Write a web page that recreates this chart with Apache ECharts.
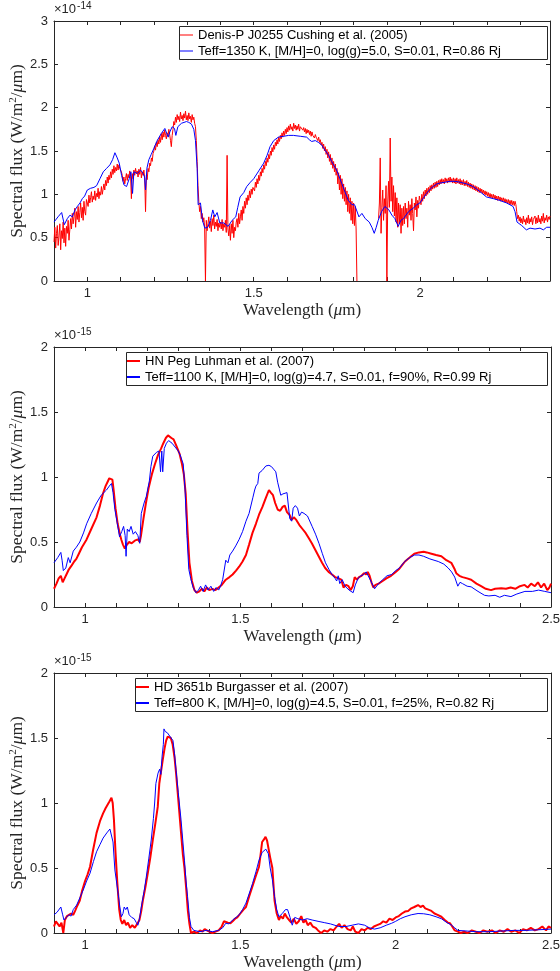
<!DOCTYPE html>
<html>
<head>
<meta charset="utf-8">
<script src="https://cdn.jsdelivr.net/npm/echarts@6/dist/echarts.min.js"></script>
<style>
html,body{margin:0;padding:0;background:#fff}
#chart{width:560px;height:971px}
</style>
</head>
<body>
<div id="chart"></div>
<script>
// ---- Panel 1: Denis-P J0255, flux in units of 1e-14 W/m^2/um ----
const obs1Start = 0.9;     // first wavelength of the observed spectrum (um)
const obs1Step = 0.0025;   // sampling step (um)
const obsFlux1 = [
  // 0.900
  0.45,0.62,0.38,0.55,0.64,0.41,0.52,0.66,0.36,0.58,0.49,0.68,0.44,0.61,0.40,0.63,0.55,0.70,0.47,0.59,
  // 0.950
  0.72,0.60,0.78,0.66,0.74,0.84,0.62,0.80,0.71,0.86,0.68,0.79,0.90,0.73,0.85,0.70,0.92,0.80,0.76,0.94,
  // 1.000
  0.95,0.86,0.99,0.90,0.96,1.03,0.91,0.98,0.94,1.04,0.93,1.01,0.97,1.07,0.95,1.03,0.99,1.09,1.00,1.06,
  // 1.050
  1.12,1.05,1.16,1.10,1.20,1.13,1.22,1.17,1.26,1.19,1.29,1.23,1.33,1.25,1.31,1.27,1.35,1.28,1.34,1.30,
  // 1.100
  1.32,1.26,1.22,1.15,1.20,1.12,1.18,1.24,1.16,1.23,1.19,1.27,1.21,0.95,1.24,1.18,1.28,1.22,1.30,1.24,
  // 1.150
  1.27,1.20,1.29,1.23,1.31,1.19,1.26,1.22,1.28,1.18,0.80,1.22,1.17,1.30,1.26,1.36,1.33,1.42,1.38,1.47,
  // 1.200
  1.50,1.56,1.51,1.60,1.55,1.63,1.58,1.66,1.60,1.70,1.63,1.72,1.66,1.74,1.68,1.64,1.71,1.67,1.75,1.69,
  // 1.250
  1.62,1.55,1.68,1.75,1.84,1.80,1.89,1.83,1.92,1.86,1.90,1.84,1.95,1.87,1.91,1.85,1.93,1.88,1.96,1.86,
  // 1.300
  1.91,1.85,1.94,1.87,1.90,1.83,1.92,1.86,1.89,1.82,1.78,1.62,1.38,1.10,0.92,0.80,0.86,0.72,0.78,0.68,
  // 1.350
  0.73,0.62,0.00,0.70,0.58,0.66,0.74,0.61,0.69,0.57,0.72,0.64,0.76,0.60,0.68,0.63,0.71,0.58,0.67,0.62,
  // 1.400
  0.68,0.60,0.71,0.58,0.66,0.62,0.70,0.56,1.45,0.60,0.52,0.64,0.47,0.66,0.55,0.70,0.50,0.62,0.58,0.68,
  // 1.450
  0.72,0.62,0.78,0.66,0.74,0.82,0.70,0.86,0.78,0.92,0.84,0.96,0.88,0.99,0.93,1.04,0.96,1.06,1.00,1.08,
  // 1.500
  1.10,1.04,1.14,1.08,1.18,1.12,1.22,1.16,1.26,1.21,1.30,1.25,1.34,1.29,1.38,1.33,1.42,1.37,1.46,1.41,
  // 1.550
  1.50,1.45,1.54,1.49,1.57,1.52,1.60,1.56,1.63,1.58,1.66,1.61,1.68,1.64,1.71,1.66,1.73,1.68,1.75,1.70,
  // 1.600
  1.77,1.72,1.79,1.74,1.81,1.75,1.78,1.73,1.82,1.76,1.80,1.74,1.79,1.75,1.81,1.73,1.78,1.76,1.80,1.74,
  // 1.650
  1.77,1.72,1.76,1.70,1.75,1.71,1.74,1.69,1.73,1.67,1.72,1.68,1.70,1.65,1.69,1.66,1.68,1.62,1.66,1.60,
  // 1.700
  1.63,1.57,1.60,1.53,1.58,1.50,1.55,1.46,1.52,1.42,1.49,1.38,1.46,1.34,1.42,1.30,1.38,1.26,1.35,1.22,
  // 1.750
  1.30,1.12,1.25,1.05,1.22,1.00,1.18,0.95,1.12,0.92,1.08,0.88,1.04,0.80,1.00,0.78,0.96,0.70,0.92,0.66,
  // 1.800 (no data in the telluric gap)
  0.90,0.64,0.86,0.60,0.00,null,null,null,null,null,null,null,null,null,null,null,null,null,null,null,
  // 1.850
  null,null,null,null,null,null,null,null,null,null,0.72,0.90,1.42,0.55,0.85,1.05,0.70,0.95,0.78,1.10,
  // 1.900
  0.00,0.90,1.15,0.85,1.65,0.92,1.20,0.80,1.10,0.75,1.02,0.68,0.96,0.62,0.90,0.66,0.88,0.55,0.84,0.64,
  // 1.950
  0.86,0.66,0.90,0.72,0.84,0.62,0.92,0.76,0.88,0.70,0.95,0.78,0.58,0.90,0.82,0.97,0.74,0.93,0.84,0.98,
  // 2.000
  0.96,0.88,1.00,0.92,1.03,0.95,1.05,0.98,1.07,1.00,1.08,1.02,1.10,1.04,1.11,1.06,1.13,1.07,1.14,1.08,
  // 2.050
  1.15,1.09,1.16,1.11,1.17,1.12,1.18,1.13,1.17,1.12,1.19,1.14,1.18,1.13,1.19,1.14,1.20,1.14,1.18,1.13,
  // 2.100
  1.19,1.13,1.18,1.12,1.19,1.13,1.17,1.12,1.18,1.11,1.16,1.11,1.17,1.10,1.15,1.10,1.16,1.09,1.14,1.08,
  // 2.150
  1.13,1.07,1.12,1.06,1.11,1.05,1.10,1.04,1.09,1.03,1.08,1.02,1.07,1.02,1.06,1.01,1.05,1.00,1.04,0.99,
  // 2.200
  1.03,0.98,1.02,0.97,1.01,0.96,1.00,0.95,1.00,0.95,0.99,0.94,0.98,0.93,0.98,0.93,0.97,0.92,0.96,0.92,
  // 2.250
  0.96,0.91,0.95,0.90,0.94,0.89,0.94,0.89,0.93,0.88,0.93,0.88,0.92,0.87,0.92,0.88,0.80,0.72,0.76,0.69,
  // 2.300
  0.74,0.67,0.72,0.66,0.75,0.68,0.71,0.65,0.73,0.67,0.76,0.66,0.72,0.68,0.74,0.65,0.71,0.69,0.75,0.66,
  // 2.350
  0.73,0.67,0.76,0.68,0.72,0.66,0.75,0.69,0.78,0.67,0.73,0.70,0.76,0.68,0.74,0.71,0.75
];
const model1 = [
  [0.900,0.68],[0.912,0.74],[0.923,0.79],[0.931,0.65],[0.940,0.72],[0.948,0.76],[0.955,0.74],
  [0.963,0.82],[0.970,0.86],[0.978,0.90],[0.985,0.95],[0.992,0.98],[1.000,1.05],[1.010,1.07],
  [1.020,1.08],[1.028,1.10],[1.038,1.18],[1.048,1.26],[1.058,1.30],[1.068,1.34],[1.076,1.40],
  [1.083,1.48],[1.090,1.42],[1.096,1.36],[1.103,1.22],[1.110,1.11],[1.118,1.09],[1.126,1.18],
  [1.131,1.26],[1.136,1.01],[1.140,1.26],[1.150,1.24],[1.160,1.28],[1.168,1.24],[1.172,1.20],
  [1.175,1.05],[1.179,1.30],[1.185,1.40],[1.192,1.46],[1.200,1.53],[1.210,1.62],[1.222,1.70],
  [1.233,1.76],[1.238,1.74],[1.243,1.66],[1.248,1.72],[1.255,1.78],[1.262,1.76],[1.266,1.68],
  [1.272,1.78],[1.283,1.82],[1.298,1.84],[1.305,1.83],[1.313,1.81],[1.320,1.75],[1.325,1.62],
  [1.330,1.30],[1.333,0.88],[1.340,0.90],[1.346,0.70],[1.353,0.61],[1.362,0.62],[1.370,0.70],
  [1.377,0.82],[1.383,0.74],[1.390,0.79],[1.398,0.67],[1.410,0.67],[1.423,0.63],[1.435,0.70],
  [1.446,0.74],[1.452,0.85],[1.459,0.97],[1.470,1.02],[1.479,1.09],[1.490,1.14],[1.500,1.18],
  [1.515,1.27],[1.530,1.36],[1.540,1.45],[1.549,1.55],[1.560,1.62],[1.574,1.66],[1.590,1.67],
  [1.605,1.68],[1.619,1.68],[1.640,1.67],[1.659,1.66],[1.667,1.63],[1.674,1.61],[1.685,1.62],
  [1.694,1.60],[1.704,1.57],[1.714,1.51],[1.725,1.45],[1.734,1.38],[1.749,1.28],[1.765,1.12],
  [1.784,0.93],[1.795,0.88],[1.803,0.88],[1.809,0.86],[1.816,0.74],[1.825,0.78],[1.835,0.72],
  [1.847,0.68],[1.855,0.62],[1.862,0.55],[1.868,0.62],[1.874,0.70],[1.884,0.80],[1.894,0.86],
  [1.900,0.88],[1.906,0.82],[1.915,0.76],[1.924,0.72],[1.934,0.63],[1.942,0.70],[1.950,0.72],
  [1.965,0.80],[1.979,0.84],[1.990,0.88],[1.999,0.90],[2.010,0.96],[2.019,1.01],[2.030,1.06],
  [2.039,1.09],[2.050,1.12],[2.059,1.13],[2.075,1.14],[2.089,1.15],[2.105,1.15],[2.120,1.14],
  [2.140,1.12],[2.159,1.09],[2.180,1.03],[2.199,0.97],[2.220,0.95],[2.239,0.93],[2.260,0.90],
  [2.279,0.86],[2.285,0.80],[2.291,0.68],[2.305,0.64],[2.319,0.59],[2.330,0.61],[2.345,0.60],
  [2.360,0.61],[2.370,0.59],[2.380,0.62],[2.390,0.62]
];

// ---- Panel 2: HN Peg, flux in units of 1e-15 W/m^2/um ----
const obs2 = [
  [0.900,0.14],[0.908,0.18],[0.915,0.22],[0.922,0.24],[0.928,0.19],[0.934,0.22],[0.940,0.25],
  [0.948,0.29],[0.957,0.32],[0.965,0.35],[0.972,0.37],[0.980,0.41],[0.990,0.46],[1.005,0.52],
  [1.020,0.60],[1.037,0.69],[1.048,0.78],[1.058,0.875],[1.066,0.93],[1.072,0.96],[1.078,0.99],
  [1.084,1.00],[1.088,0.98],[1.092,0.90],[1.098,0.76],[1.105,0.64],[1.112,0.56],[1.117,0.515],
  [1.122,0.48],[1.128,0.45],[1.135,0.48],[1.142,0.50],[1.150,0.49],[1.160,0.51],[1.170,0.52],
  [1.176,0.50],[1.180,0.55],[1.188,0.68],[1.196,0.80],[1.205,0.92],[1.215,1.02],[1.225,1.10],
  [1.235,1.17],[1.245,1.22],[1.252,1.26],[1.260,1.30],[1.267,1.32],[1.272,1.33],[1.278,1.30],
  [1.285,1.29],[1.294,1.24],[1.304,1.18],[1.312,1.10],[1.318,1.02],[1.324,0.87],[1.330,0.58],
  [1.336,0.34],[1.344,0.20],[1.352,0.13],[1.360,0.11],[1.368,0.12],[1.376,0.14],[1.384,0.12],
  [1.392,0.15],[1.400,0.13],[1.410,0.14],[1.420,0.13],[1.430,0.15],[1.440,0.17],[1.453,0.21],
  [1.465,0.23],[1.475,0.25],[1.486,0.28],[1.496,0.31],[1.507,0.35],[1.518,0.40],[1.528,0.48],
  [1.539,0.57],[1.550,0.64],[1.560,0.71],[1.571,0.77],[1.582,0.84],[1.592,0.90],[1.598,0.88],
  [1.605,0.86],[1.612,0.80],[1.620,0.75],[1.628,0.74],[1.636,0.77],[1.643,0.78],[1.650,0.73],
  [1.658,0.71],[1.665,0.67],[1.672,0.69],[1.680,0.67],[1.690,0.63],[1.700,0.60],[1.710,0.57],
  [1.720,0.53],[1.730,0.49],[1.741,0.44],[1.752,0.39],[1.763,0.34],[1.773,0.30],[1.784,0.27],
  [1.795,0.25],[1.805,0.23],[1.816,0.22],[1.825,0.21],[1.832,0.15],[1.840,0.17],[1.848,0.16],
  [1.855,0.13],[1.862,0.16],[1.868,0.23],[1.875,0.21],[1.882,0.23],[1.890,0.24],[1.898,0.26],
  [1.905,0.25],[1.910,0.27],[1.916,0.24],[1.922,0.19],[1.928,0.15],[1.935,0.17],[1.945,0.18],
  [1.958,0.20],[1.970,0.22],[1.985,0.24],[2.000,0.27],[2.010,0.29],[2.020,0.32],[2.030,0.35],
  [2.045,0.38],[2.060,0.41],[2.075,0.42],[2.090,0.425],[2.100,0.42],[2.115,0.41],[2.130,0.40],
  [2.147,0.39],[2.163,0.36],[2.179,0.34],[2.190,0.29],[2.195,0.26],[2.205,0.24],[2.215,0.23],
  [2.230,0.22],[2.243,0.21],[2.260,0.18],[2.275,0.16],[2.290,0.14],[2.307,0.13],[2.320,0.14],
  [2.340,0.145],[2.355,0.14],[2.370,0.15],[2.385,0.14],[2.400,0.16],[2.415,0.17],[2.425,0.15],
  [2.436,0.18],[2.448,0.16],[2.458,0.19],[2.468,0.15],[2.478,0.18],[2.488,0.13],[2.495,0.15],
  [2.500,0.18]
];
const model2 = [
  [0.900,0.34],[0.912,0.38],[0.922,0.42],[0.926,0.36],[0.930,0.28],[0.938,0.30],[0.946,0.38],
  [0.952,0.34],[0.962,0.43],[0.972,0.46],[0.983,0.50],[0.995,0.57],[1.005,0.64],[1.020,0.72],
  [1.037,0.80],[1.052,0.86],[1.069,0.90],[1.078,0.93],[1.085,0.95],[1.090,0.88],[1.096,0.75],
  [1.104,0.64],[1.111,0.54],[1.118,0.58],[1.124,0.62],[1.129,0.55],[1.132,0.39],[1.136,0.60],
  [1.142,0.58],[1.148,0.62],[1.155,0.56],[1.162,0.58],[1.170,0.55],[1.176,0.49],[1.181,0.72],
  [1.190,0.80],[1.197,0.85],[1.207,0.97],[1.212,1.08],[1.218,1.16],[1.230,1.19],[1.238,1.20],
  [1.243,1.04],[1.247,1.20],[1.250,1.04],[1.255,1.22],[1.262,1.26],[1.269,1.28],[1.280,1.26],
  [1.290,1.23],[1.300,1.20],[1.306,1.17],[1.316,1.10],[1.322,0.90],[1.328,0.55],[1.334,0.29],
  [1.340,0.22],[1.348,0.15],[1.357,0.11],[1.365,0.13],[1.372,0.16],[1.380,0.12],[1.388,0.17],
  [1.396,0.13],[1.405,0.16],[1.414,0.12],[1.422,0.15],[1.430,0.13],[1.436,0.16],[1.443,0.21],
  [1.449,0.30],[1.453,0.36],[1.460,0.34],[1.466,0.40],[1.475,0.43],[1.485,0.47],[1.496,0.52],
  [1.507,0.58],[1.518,0.66],[1.528,0.72],[1.540,0.84],[1.546,0.90],[1.550,0.93],[1.556,0.95],
  [1.560,1.03],[1.570,1.05],[1.582,1.085],[1.592,1.09],[1.600,1.08],[1.607,1.06],[1.614,1.04],
  [1.620,0.96],[1.630,0.86],[1.637,0.87],[1.643,0.88],[1.650,0.88],[1.656,0.88],[1.659,0.68],
  [1.665,0.66],[1.670,0.76],[1.677,0.78],[1.684,0.76],[1.690,0.70],[1.697,0.73],[1.705,0.72],
  [1.716,0.70],[1.731,0.62],[1.742,0.56],[1.753,0.49],[1.764,0.41],[1.774,0.34],[1.785,0.29],
  [1.795,0.25],[1.805,0.22],[1.810,0.20],[1.815,0.24],[1.820,0.18],[1.828,0.21],[1.837,0.16],
  [1.850,0.13],[1.863,0.11],[1.870,0.17],[1.879,0.22],[1.888,0.24],[1.897,0.25],[1.905,0.27],
  [1.911,0.26],[1.920,0.20],[1.932,0.14],[1.945,0.18],[1.958,0.21],[1.972,0.24],[1.987,0.25],
  [2.000,0.28],[2.012,0.30],[2.029,0.35],[2.045,0.38],[2.061,0.40],[2.075,0.40],[2.090,0.39],
  [2.110,0.37],[2.137,0.35],[2.155,0.33],[2.169,0.30],[2.180,0.27],[2.190,0.23],[2.200,0.16],
  [2.207,0.19],[2.215,0.18],[2.230,0.16],[2.243,0.155],[2.265,0.12],[2.286,0.09],[2.300,0.085],
  [2.320,0.09],[2.335,0.075],[2.350,0.09],[2.371,0.08],[2.390,0.10],[2.416,0.12],[2.440,0.12],
  [2.460,0.13],[2.480,0.12],[2.500,0.11]
];

// ---- Panel 3: HD 3651b, flux in units of 1e-15 W/m^2/um ----
const obs3 = [
  [0.900,0.05],[0.906,0.09],[0.912,0.07],[0.918,0.05],[0.924,0.08],[0.930,0.00],[0.935,0.10],
  [0.942,0.13],[0.948,0.12],[0.955,0.15],[0.962,0.14],[0.968,0.17],[0.975,0.21],[0.983,0.25],
  [0.990,0.32],[1.000,0.40],[1.008,0.45],[1.016,0.51],[1.026,0.64],[1.037,0.77],[1.048,0.86],
  [1.058,0.92],[1.066,0.96],[1.072,0.985],[1.078,1.01],[1.085,1.04],[1.089,1.00],[1.093,0.87],
  [1.098,0.62],[1.104,0.38],[1.110,0.18],[1.115,0.10],[1.120,0.07],[1.126,0.10],[1.132,0.06],
  [1.138,0.08],[1.145,0.04],[1.152,0.06],[1.160,0.04],[1.168,0.07],[1.175,0.10],[1.181,0.17],
  [1.186,0.25],[1.194,0.35],[1.202,0.46],[1.210,0.58],[1.218,0.715],[1.226,0.84],[1.234,0.97],
  [1.239,1.15],[1.245,1.25],[1.250,1.33],[1.256,1.42],[1.261,1.48],[1.266,1.51],[1.271,1.52],
  [1.276,1.50],[1.282,1.45],[1.288,1.35],[1.293,1.23],[1.300,1.03],[1.309,0.77],[1.315,0.60],
  [1.320,0.50],[1.326,0.33],[1.331,0.17],[1.336,0.07],[1.341,0.00],[1.350,0.01],[1.360,0.00],
  [1.370,0.02],[1.378,0.01],[1.385,0.03],[1.392,0.02],[1.400,0.01],[1.410,0.00],[1.420,0.01],
  [1.430,0.02],[1.440,0.05],[1.447,0.09],[1.453,0.10],[1.460,0.08],[1.468,0.075],[1.475,0.09],
  [1.483,0.11],[1.490,0.12],[1.500,0.15],[1.510,0.18],[1.518,0.20],[1.528,0.28],[1.539,0.36],
  [1.550,0.44],[1.560,0.51],[1.566,0.62],[1.570,0.70],[1.576,0.72],[1.581,0.74],[1.586,0.71],
  [1.590,0.72],[1.596,0.58],[1.603,0.50],[1.610,0.25],[1.617,0.15],[1.624,0.10],[1.630,0.13],
  [1.637,0.11],[1.643,0.15],[1.650,0.12],[1.657,0.10],[1.664,0.08],[1.672,0.11],[1.680,0.07],
  [1.688,0.09],[1.696,0.13],[1.703,0.08],[1.710,0.10],[1.717,0.06],[1.725,0.08],[1.733,0.05],
  [1.742,0.04],[1.750,0.02],[1.760,0.00],[1.770,0.02],[1.780,0.01],[1.790,0.03],[1.800,0.02],
  [1.810,0.05],[1.818,0.07],[1.826,0.04],[1.835,0.06],[1.845,0.03],[1.855,0.02],[1.862,0.05],
  [1.870,0.01],[1.880,0.00],[1.890,0.03],[1.900,0.02],[1.910,0.04],[1.920,0.03],[1.930,0.05],
  [1.940,0.06],[1.950,0.07],[1.960,0.09],[1.970,0.08],[1.980,0.11],[1.990,0.10],[2.000,0.12],
  [2.010,0.13],[2.020,0.15],[2.030,0.165],[2.040,0.17],[2.050,0.19],[2.060,0.20],[2.066,0.19],
  [2.072,0.215],[2.080,0.20],[2.088,0.21],[2.095,0.19],[2.105,0.18],[2.115,0.17],[2.125,0.15],
  [2.135,0.14],[2.147,0.125],[2.158,0.10],[2.168,0.08],[2.175,0.075],[2.182,0.05],[2.190,0.02],
  [2.200,0.01],[2.210,0.00],[2.220,0.01],[2.232,0.00],[2.245,0.02],[2.258,0.01],[2.270,0.00],
  [2.282,0.02],[2.295,0.01],[2.310,0.02],[2.322,0.00],[2.335,0.02],[2.348,0.01],[2.360,0.03],
  [2.372,0.01],[2.385,0.02],[2.398,0.00],[2.410,0.03],[2.422,0.02],[2.435,0.04],[2.448,0.02],
  [2.460,0.03],[2.472,0.05],[2.484,0.02],[2.492,0.05],[2.500,0.04]
];
const model3 = [
  [0.900,0.14],[0.910,0.16],[0.922,0.20],[0.928,0.14],[0.932,0.10],[0.940,0.12],[0.948,0.14],
  [0.955,0.13],[0.962,0.18],[0.973,0.215],[0.983,0.27],[0.994,0.33],[1.005,0.40],[1.016,0.46],
  [1.027,0.55],[1.037,0.625],[1.048,0.68],[1.058,0.73],[1.070,0.77],[1.080,0.80],[1.086,0.79],
  [1.090,0.70],[1.096,0.485],[1.105,0.33],[1.112,0.20],[1.117,0.125],[1.122,0.15],[1.126,0.20],
  [1.131,0.18],[1.136,0.20],[1.142,0.14],[1.150,0.12],[1.158,0.11],[1.165,0.08],[1.170,0.06],
  [1.176,0.12],[1.181,0.20],[1.190,0.32],[1.197,0.43],[1.205,0.57],[1.213,0.715],[1.220,0.88],
  [1.224,1.00],[1.228,1.15],[1.235,1.23],[1.240,1.26],[1.244,1.22],[1.248,1.36],[1.252,1.45],
  [1.254,1.57],[1.258,1.55],[1.262,1.56],[1.265,1.54],[1.270,1.55],[1.277,1.50],[1.283,1.48],
  [1.288,1.38],[1.293,1.25],[1.300,1.08],[1.309,0.87],[1.315,0.70],[1.320,0.56],[1.325,0.40],
  [1.330,0.28],[1.336,0.12],[1.341,0.05],[1.350,0.02],[1.370,0.01],[1.390,0.02],[1.410,0.01],
  [1.430,0.02],[1.443,0.04],[1.453,0.075],[1.463,0.07],[1.475,0.10],[1.486,0.12],[1.496,0.14],
  [1.507,0.18],[1.518,0.23],[1.528,0.30],[1.539,0.38],[1.550,0.47],[1.560,0.56],[1.570,0.62],
  [1.582,0.645],[1.590,0.61],[1.596,0.50],[1.603,0.41],[1.610,0.28],[1.617,0.18],[1.624,0.125],
  [1.635,0.15],[1.645,0.18],[1.652,0.18],[1.660,0.12],[1.667,0.06],[1.675,0.12],[1.685,0.11],
  [1.700,0.10],[1.715,0.11],[1.731,0.10],[1.750,0.09],[1.770,0.08],[1.790,0.07],[1.817,0.05],
  [1.840,0.05],[1.860,0.06],[1.880,0.07],[1.900,0.06],[1.915,0.04],[1.932,0.03],[1.950,0.04],
  [1.970,0.06],[1.987,0.075],[2.000,0.09],[2.015,0.11],[2.030,0.125],[2.050,0.14],[2.072,0.15],
  [2.090,0.148],[2.110,0.14],[2.130,0.125],[2.147,0.11],[2.165,0.08],[2.180,0.06],[2.190,0.04],
  [2.200,0.02],[2.230,0.015],[2.260,0.01],[2.300,0.01],[2.340,0.015],[2.380,0.02],[2.420,0.02],
  [2.460,0.025],[2.500,0.03]
];

// ---- Labels ----
const obsNames = [
  'Denis-P J0255 Cushing et al. (2005)',
  'HN Peg Luhman et al. (2007)',
  'HD 3651b Burgasser et al. (2007)'
];
const modelNames = [
  'Teff=1350 K, [M/H]=0, log(g)=5.0, S=0.01, R=0.86 Rj',
  'Teff=1100 K, [M/H]=0, log(g)=4.7, S=0.01, f=90%, R=0.99 Rj',
  'Teff=800 K, [M/H]=0, log(g)=4.5, S=0.01, f=25%, R=0.82 Rj'
];
const exponents = ['-14', '-15', '-15'];
const waveRanges = [[0.9, 2.39], [0.9, 2.5], [0.9, 2.5]];
const fluxMax = [3, 2, 2];

// ---- Build the figure ----
const obs1 = obsFlux1.map((v, i) => [+(obs1Start + i * obs1Step).toFixed(4), v]);
const obsData = [obs1, obs2, obs3];
const modelData = [model1, model2, model3];

const SANS = "'Liberation Sans', Arial, Helvetica, sans-serif";
const SERIF = "'Liberation Serif', 'Times New Roman', serif";
const AX = '#262626';

const layout = [
  { top: 21, right: 10, legendX: 179, legendY: 26, obsWidth: 1, keyH: 1 },
  { top: 347, right: 9, legendX: 126, legendY: 352, obsWidth: 2, keyH: 2 },
  { top: 673, right: 9, legendX: 135, legendY: 678, obsWidth: 2, keyH: 2 }
];
const PLOT_LEFT = 54, PLOT_H = 260, LEGEND_RIGHT = 547, LEGEND_H = 33;

const grid = [], xAxis = [], yAxis = [], series = [], legend = [], title = [], graphic = [];

const tickLabel = { fontFamily: SANS, fontSize: 13, color: AX };

layout.forEach((p, k) => {
  grid.push({
    left: PLOT_LEFT, right: p.right, top: p.top, height: PLOT_H,
    containLabel: false, outerBoundsMode: 'none'
  });
  const [xmin, xmax] = waveRanges[k];
  const xBase = {
    type: 'value', gridIndex: k, min: xmin, max: xmax, interval: 0.1,
    axisLine: { show: true, onZero: false, lineStyle: { color: AX, width: 1 } },
    axisTick: { show: true, inside: true, length: 4, lineStyle: { color: AX, width: 1 } },
    splitLine: { show: false }
  };
  xAxis.push(Object.assign({}, xBase, {
    position: 'bottom',
    axisLabel: Object.assign({}, tickLabel, {
      margin: 6,
      showMinLabel: true, showMaxLabel: true,
      formatter: v => {
        const t = Math.round(v * 10);
        return (t % 5 === 0 && Math.abs(v * 10 - t) < 1e-6) ? String(t / 10) : '';
      }
    }),
    name: 'Wavelength ({it|μ}m)',
    nameLocation: 'middle', nameGap: 21, nameMoveOverlap: false,
    nameTextStyle: { fontFamily: SERIF, fontSize: 17, color: AX, rich: { it: { fontFamily: SERIF, fontSize: 17, fontStyle: 'italic', color: AX } } }
  }));
  xAxis.push(Object.assign({}, xBase, { position: 'top', axisLabel: { show: false } }));

  const yBase = {
    type: 'value', gridIndex: k, min: 0, max: fluxMax[k], interval: 0.5,
    axisLine: { show: true, onZero: false, lineStyle: { color: AX, width: 1 } },
    axisTick: { show: true, inside: true, length: 4, lineStyle: { color: AX, width: 1 } },
    splitLine: { show: false }
  };
  yAxis.push(Object.assign({}, yBase, {
    position: 'left',
    axisLabel: Object.assign({}, tickLabel, { margin: 6, formatter: v => String(+v.toFixed(2)) }),
    name: 'Spectral flux (W/m{sup|2}/{it|μ}m)',
    nameLocation: 'middle', nameGap: 27, nameRotate: 90, nameMoveOverlap: false,
    nameTextStyle: {
      fontFamily: SERIF, fontSize: 17.5, color: AX,
      rich: {
        sup: { fontFamily: SERIF, fontSize: 11, color: AX, verticalAlign: 'bottom', padding: [0, 0, 8, 0] },
        it: { fontFamily: SERIF, fontSize: 17.5, fontStyle: 'italic', color: AX }
      }
    }
  }));
  yAxis.push(Object.assign({}, yBase, { position: 'right', axisLabel: { show: false } }));

  series.push({
    name: obsNames[k], type: 'line', xAxisIndex: 2 * k, yAxisIndex: 2 * k,
    data: obsData[k], symbol: 'none', showSymbol: false, connectNulls: false, clip: true,
    lineStyle: { color: '#ff0000', width: p.obsWidth }, itemStyle: { color: '#ff0000' },
    z: 2, animation: false
  });
  series.push({
    name: modelNames[k], type: 'line', xAxisIndex: 2 * k, yAxisIndex: 2 * k,
    data: modelData[k], symbol: 'none', showSymbol: false, clip: true,
    lineStyle: { color: '#0000ff', width: 1 }, itemStyle: { color: '#0000ff' },
    z: 3, animation: false
  });

  graphic.push({
    type: 'rect', z: 50,
    shape: { x: p.legendX + 0.5, y: p.legendY + 0.5, width: LEGEND_RIGHT - p.legendX, height: LEGEND_H },
    style: { fill: '#fff', stroke: AX, lineWidth: 1 }
  });
  legend.push({
    data: [obsNames[k], modelNames[k]],
    orient: 'vertical', left: p.legendX + 1, top: p.legendY + 2,
    icon: 'rect', itemWidth: 13, itemHeight: p.keyH, itemGap: 2, padding: 0,
    selectedMode: false, z: 60,
    textStyle: { fontFamily: SANS, fontSize: 13, color: '#000', lineHeight: 14 }
  });

  title.push({
    text: '×10{s|' + exponents[k] + '}',
    left: PLOT_LEFT, top: p.top - 22,
    padding: 0,
    textStyle: {
      fontFamily: SANS, fontSize: 13, fontWeight: 'normal', color: AX, lineHeight: 20,
      rich: { s: { fontFamily: SANS, fontSize: 10, color: AX, verticalAlign: 'bottom', padding: [0, 0, 8, 1] } }
    }
  });
});

const chart = echarts.init(document.getElementById('chart'), null, { renderer: 'canvas' });
chart.setOption({
  animation: false,
  backgroundColor: '#fff',
  title, grid, xAxis, yAxis, series, legend, graphic
});
</script>
</body>
</html>
